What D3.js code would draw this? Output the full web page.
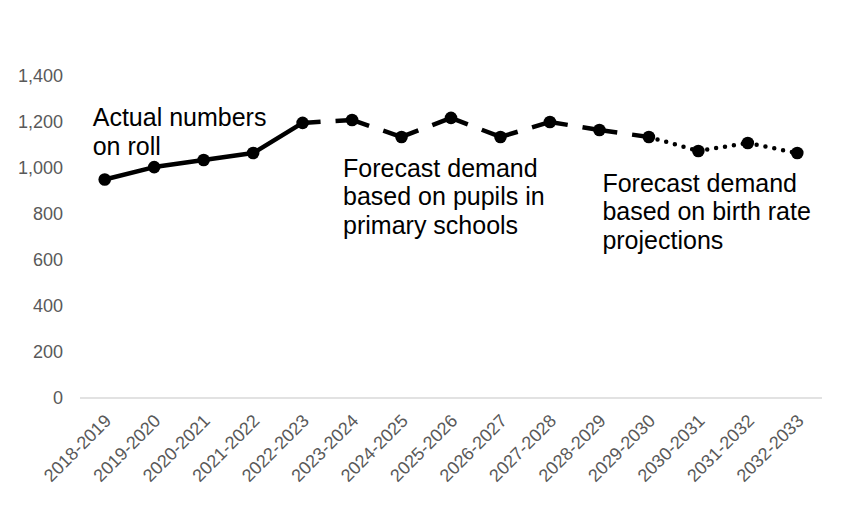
<!DOCTYPE html>
<html>
<head>
<meta charset="utf-8">
<script src="https://cdn.jsdelivr.net/npm/d3@7"></script>
<style>
  html, body { margin: 0; padding: 0; background: #fff; }
  svg { display: block; font-family: "Liberation Sans", Arial, sans-serif; }
</style>
</head>
<body>
<svg id="chart" width="850" height="510"></svg>
<script>
const categories = ["2018-2019","2019-2020","2020-2021","2021-2022","2022-2023","2023-2024","2024-2025","2025-2026","2026-2027","2027-2028","2028-2029","2029-2030","2030-2031","2031-2032","2032-2033"];
const actualValues   = [950, 1004, 1035, 1065, 1196, null, null, null, null, null, null, null, null, null, null];
const pupilForecast  = [null, null, null, null, 1196, 1209, 1135, 1218, 1135, 1200, 1165, 1135, null, null, null];
const birthForecast  = [null, null, null, null, null, null, null, null, null, null, null, 1135, 1074, 1109, 1065];
const yTicks = [0, 200, 400, 600, 800, 1000, 1200, 1400];
const annotations = [
  { lines: ["Actual numbers", "on roll"], cat: 0, value: 1182, dx: -12 },
  { lines: ["Forecast demand", "based on pupils in", "primary schools"], cat: 5, value: 962, dx: -9 },
  { lines: ["Forecast demand", "based on birth rate", "projections"], cat: 10, value: 896, dx: 3 }
];

(function () {
const svg = d3.select("#chart");
const pl = 80, pr = 822, pt = 76, pb = 398;

const x = d3.scalePoint().domain(categories).range([pl, pr]).padding(0.5);
const y = d3.scaleLinear().domain([0, 1400]).range([pb, pt]);

// y axis labels
const yAxis = d3.axisLeft(y).tickValues(yTicks).tickFormat(d3.format(",")).tickSize(0).tickPadding(0);
const yg = svg.append("g").attr("transform", `translate(63,0)`).call(yAxis);
yg.select(".domain").remove();
yg.selectAll("text").attr("fill", "#595959").attr("font-size", 18).attr("font-family", "Liberation Sans, Arial, sans-serif");

// x axis baseline
const xAxis = d3.axisBottom(x).tickSize(0).tickPadding(0);
const xg = svg.append("g").attr("transform", `translate(0,${pb})`).call(xAxis);
xg.select(".domain").attr("stroke", "#d9d9d9").attr("stroke-width", 1.5)
  .attr("d", `M${pl},0H${pr}`);
xg.selectAll("text")
  .attr("fill", "#595959").attr("font-size", 18).attr("font-family", "Liberation Sans, Arial, sans-serif")
  .attr("text-anchor", "end").attr("dy", null).attr("y", null)
  .attr("transform", "translate(7,24) rotate(-45)");

// series segments
function drawSegments(vals, style) {
  const g = svg.append("g");
  for (let i = 0; i < vals.length - 1; i++) {
    if (vals[i] == null || vals[i + 1] == null) continue;
    const p = g.append("line")
      .attr("x1", x(categories[i])).attr("y1", y(vals[i]))
      .attr("x2", x(categories[i + 1])).attr("y2", y(vals[i + 1]))
      .attr("stroke", "#000").attr("stroke-width", style.width)
      .attr("stroke-linecap", style.cap);
    if (style.dash) p.attr("stroke-dasharray", style.dash);
  }
}
drawSegments(actualValues, { width: 4.5, cap: "round" });
drawSegments(pupilForecast, { width: 4.5, cap: "butt", dash: "18,15" });
drawSegments(birthForecast, { width: 4.5, cap: "round", dash: "0,9" });

// markers
const allPts = [];
[actualValues, pupilForecast, birthForecast].forEach(arr => arr.forEach((v, i) => {
  if (v != null && !allPts.some(p => p.i === i)) allPts.push({ i, v });
}));
svg.append("g").selectAll("circle").data(allPts).join("circle")
  .attr("cx", d => x(categories[d.i])).attr("cy", d => y(d.v)).attr("r", 6.3).attr("fill", "#000");

// annotations
annotations.forEach(a => {
  const t = svg.append("text")
    .attr("x", x(categories[a.cat]) + a.dx).attr("y", y(a.value))
    .attr("font-size", 25).attr("fill", "#000");
  a.lines.forEach((ln, k) => {
    t.append("tspan").attr("x", x(categories[a.cat]) + a.dx).attr("dy", k === 0 ? 0 : 28.5).text(ln);
  });
});
})();
</script>
</body>
</html>
